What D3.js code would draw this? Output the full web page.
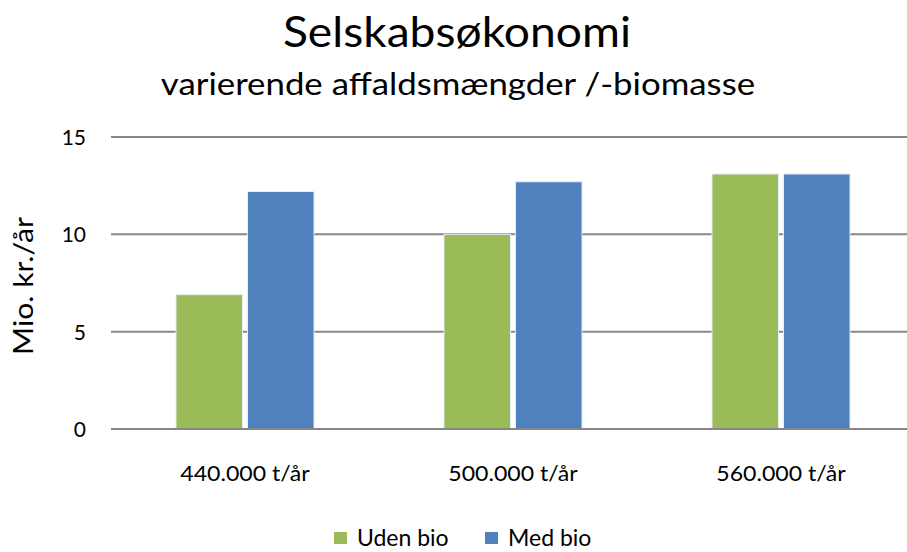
<!DOCTYPE html>
<html>
<head>
<meta charset="utf-8">
<script src="https://cdn.jsdelivr.net/npm/d3@7"></script>
<style>
  body { margin: 0; background: #fff; }
  text { font-family: Lato, "Open Sans", sans-serif; fill: #000; }
</style>
</head>
<body>
<script>
var categories = ["440.000 t/år", "500.000 t/år", "560.000 t/år"];
var series = ["Uden bio", "Med bio"];
var udenBio = [6.9, 10.0, 13.1];
var medBio = [12.2, 12.7, 13.1];
var yTicks = [0, 5, 10, 15];
var colors = ["#9bbb59", "#4f81bd"];

var width = 907;
var height = 552;

const margin = {left: 111, top: 137, right: -8, bottom: 123}

var svg = d3.select("body").append("svg")
      .attr("width", width)
      .attr("height", height);

// stretch a text to a target width (reference font is wider than Lato)
function stretch(sel, k) {
  sel.each(function() {
    var w = this.getComputedTextLength();
    d3.select(this).attr("textLength", w * k).attr("lengthAdjust", "spacingAndGlyphs");
  });
}

var x = d3.scaleBand()
    .domain(categories)
    .range([margin.left, width - margin.right]);

var x1 = d3.scaleBand()
    .domain(series)
    .range([x.bandwidth() / 2 - 69, x.bandwidth() / 2 + 69])
    .paddingInner(0.07);

var y = d3.scaleLinear()
    .domain([0, 15])
    .range([height - margin.bottom, margin.top]);

// gridlines
svg.append("g")
    .selectAll("line")
    .data(yTicks)
    .join("line")
      .attr("x1", margin.left)
      .attr("x2", width)
      .attr("y1", d => y(d))
      .attr("y2", d => y(d))
      .attr("stroke", "#878787")
      .attr("stroke-width", 2);

// y tick labels
svg.append("g")
    .selectAll("text")
    .data(yTicks)
    .join("text")
      .attr("x", 86)
      .attr("y", d => y(d) + 8)
      .attr("text-anchor", "end")
      .attr("font-size", 21)
      .text(d => d);

// bars
var rows = categories.map(function(c, i) { return {cat: c, vals: [udenBio[i], medBio[i]]}; });

var group = svg.append("g").selectAll("g")
    .data(rows)
    .join("g")
      .attr("transform", d => "translate(" + x(d.cat) + ",0)");

group.selectAll("rect")
    .data(d => d.vals.map((v, j) => ({s: series[j], v: v, j: j})))
    .join("rect")
      .attr("x", d => x1(d.s))
      .attr("width", x1.bandwidth())
      .attr("y", d => y(d.v))
      .attr("height", d => y(0) - y(d.v))
      .attr("fill", d => colors[d.j])
      .attr("stroke", "#e6eef8")
      .attr("stroke-width", 1);

// baseline on top of bars
svg.append("line")
    .attr("x1", margin.left)
    .attr("x2", width)
    .attr("y1", y(0))
    .attr("y2", y(0))
    .attr("stroke", "#878787")
    .attr("stroke-width", 2);

// x labels
svg.append("g")
    .selectAll("text")
    .data(categories)
    .join("text")
      .attr("x", d => x(d) + x.bandwidth() / 2)
      .attr("y", 481)
      .attr("text-anchor", "middle")
      .attr("font-size", 22)
      .text(d => d)
      .call(stretch, 1.05);

// axis title
svg.append("text")
    .attr("transform", "translate(33,286) rotate(-90)")
    .attr("text-anchor", "middle")
    .attr("font-size", 27)
    .text("Mio. kr./år")
    .call(stretch, 1.12);

// titles
svg.append("text")
    .attr("x", 457)
    .attr("y", 47)
    .attr("text-anchor", "middle")
    .attr("font-size", 42)
    .text("Selskabsøkonomi")
    .call(stretch, 1.1);

svg.append("text")
    .attr("x", 458)
    .attr("y", 95)
    .attr("text-anchor", "middle")
    .attr("font-size", 30)
    .text("varierende affaldsmængder /-biomasse")
    .call(stretch, 1.16);

// legend
var legX = [334, 485];
var leg = svg.append("g").selectAll("g")
    .data(series)
    .join("g")
      .attr("transform", (d, i) => "translate(" + legX[i] + ",532)");

leg.append("rect")
    .attr("width", 13)
    .attr("height", 12)
    .attr("fill", (d, i) => colors[i]);

leg.append("text")
    .attr("x", 23)
    .attr("y", 14)
    .attr("font-size", 23)
    .text(d => d);
</script>
</body>
</html>
